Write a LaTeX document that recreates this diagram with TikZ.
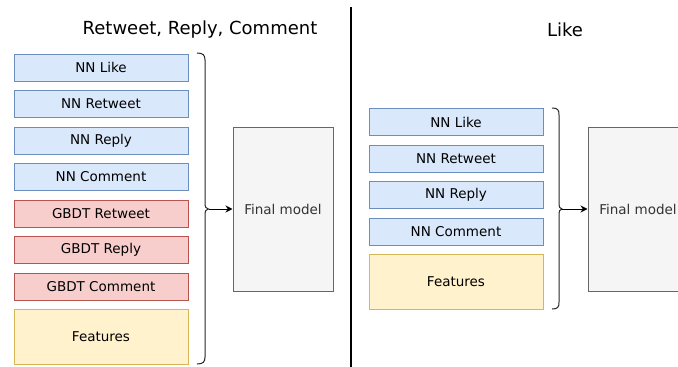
\documentclass[tikz,border=0pt]{standalone}
\usepackage{fontspec}
\setmainfont{DejaVu Sans}
\usetikzlibrary{arrows.meta}
\definecolor{bfill}{HTML}{DAE8FC}\definecolor{bdraw}{HTML}{6C8EBF}
\definecolor{rfill}{HTML}{F8CECC}\definecolor{rdraw}{HTML}{B85450}
\definecolor{yfill}{HTML}{FFF2CC}\definecolor{ydraw}{HTML}{D6B656}
\definecolor{gfill}{HTML}{F5F5F5}\definecolor{gdraw}{HTML}{666666}
\definecolor{gtext}{HTML}{333333}
\tikzset{
  base/.style={draw, line width=1pt, minimum width=174pt, inner sep=0pt, font=\fontsize{13.5}{16}\selectfont},
  nnbox/.style={base, fill=bfill, draw=bdraw, minimum height=27pt},
  gbbox/.style={base, fill=rfill, draw=rdraw, minimum height=27pt},
  featbox/.style={base, fill=yfill, draw=ydraw, minimum height=55pt},
  finalbox/.style={draw=gdraw, fill=gfill, line width=1pt, minimum width=100pt, minimum height=164pt, inner sep=0pt, text=gtext, font=\fontsize{13.5}{16}\selectfont},
  title/.style={font=\fontsize{18}{21}\selectfont},
  bracestyle/.style={draw=black!85, line width=1pt},
  arr/.style={draw=black, line width=1pt, -{Stealth[length=7pt,width=7pt]}}
}
\begin{document}
\begin{tikzpicture}[x=1pt,y=-1pt]
\clip (0,0) rectangle (678,367);
\useasboundingbox (0,0) rectangle (678,367);
% titles
\node[title] (t1) at (200,29.5) {Retweet, Reply, Comment};
\node[title] (t2) at (565,29.5) {Like};
% separator
\draw[line width=1.6pt] (351,7) -- (351,367);
% left panel
\node[nnbox] (l1) at (101,67.5) {NN Like};
\node[nnbox] (l2) at (101,104) {NN Retweet};
\node[nnbox] (l3) at (101,140.5) {NN Reply};
\node[nnbox] (l4) at (101,177) {NN Comment};
\node[gbbox] (l5) at (101,213.5) {GBDT Retweet};
\node[gbbox] (l6) at (101,250) {GBDT Reply};
\node[gbbox] (l7) at (101,286.5) {GBDT Comment};
\node[featbox] (l8) at (101,336.5) {Features};
\node[finalbox] (fl) at (283,209) {Final model};
\coordinate (bl) at (208.5,209);
\draw[bracestyle] (197,53) .. controls (203,53) and (205,55) .. (205,60) -- (205,203)
  .. controls (205,207) and (206,209) .. (bl)
  .. controls (206,209) and (205,211) .. (205,215) -- (205,357)
  .. controls (205,362) and (203,364) .. (197,364);
\draw[arr] (bl) -- (fl.west);
% right panel
\node[nnbox] (r1) at (456,122) {NN Like};
\node[nnbox] (r2) at (456,158.5) {NN Retweet};
\node[nnbox] (r3) at (456,195) {NN Reply};
\node[nnbox] (r4) at (456,231.5) {NN Comment};
\node[featbox] (r5) at (456,281.5) {Features};
\node[finalbox] (fr) at (638,209) {Final model};
\coordinate (br) at (562,209);
\draw[bracestyle] (552,108) .. controls (558,108) and (559,110) .. (559,115) -- (559,203)
  .. controls (559,207) and (560,209) .. (br)
  .. controls (560,209) and (559,211) .. (559,215) -- (559,302)
  .. controls (559,307) and (558,309) .. (552,309);
\draw[arr] (br) -- (fr.west);
\end{tikzpicture}
\end{document}
